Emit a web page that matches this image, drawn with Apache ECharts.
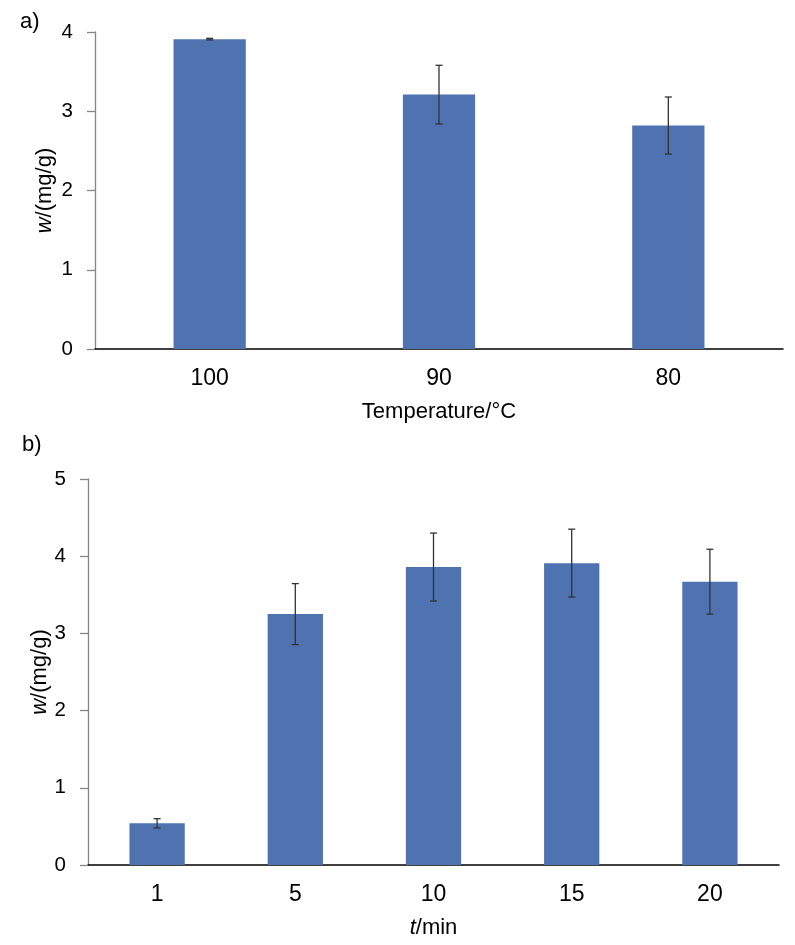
<!DOCTYPE html>
<html>
<head>
<meta charset="utf-8">
<script src="https://cdn.jsdelivr.net/npm/echarts@6/dist/echarts.min.js"></script>
<style>
html,body{margin:0;padding:0;background:#fff;}
#c{width:795px;height:945px;}
</style>
</head>
<body>
<div id="c"></div>
<script>
// Panel a) temperature
const tempCategories = ['100', '90', '80'];
const tempValues = [3.91, 3.21, 2.82];
const tempErrors = [0.01, 0.37, 0.36];
const tempTicks = [0, 1, 2, 3, 4];

// Panel b) time
const timeCategories = ['1', '5', '10', '15', '20'];
const timeValues = [0.54, 3.25, 3.86, 3.91, 3.67];
const timeErrors = [0.06, 0.395, 0.44, 0.44, 0.42];
const timeTicks = [0, 1, 2, 3, 4, 5];

const FONT = '"Liberation Sans", Arial, sans-serif';
const BAR = '#4e73b0';
const ERR = '#333333';

function errData(vals, errs) {
  return vals.map((v, i) => [i, v - errs[i], v + errs[i]]);
}
function errRender(params, api) {
  const x = api.value(0);
  const lo = api.coord([x, api.value(1)]);
  const hi = api.coord([x, api.value(2)]);
  const cap = 3.5;
  const style = { stroke: ERR, lineWidth: 1.3, fill: null };
  return {
    type: 'group',
    children: [
      { type: 'line', shape: { x1: hi[0], y1: hi[1], x2: lo[0], y2: lo[1] }, style },
      { type: 'line', shape: { x1: hi[0] - cap, y1: hi[1], x2: hi[0] + cap, y2: hi[1] }, style },
      { type: 'line', shape: { x1: lo[0] - cap, y1: lo[1], x2: lo[0] + cap, y2: lo[1] }, style }
    ]
  };
}

function yAxis(gridIndex, ticks, gap) {
  return {
    gridIndex, type: 'value',
    min: ticks[0], max: ticks[ticks.length - 1], interval: 1,
    name: '{i|w}/(mg/g)',
    nameLocation: 'middle', nameGap: gap, nameRotate: 90,
    nameMoveOverlap: false,
    nameTextStyle: {
      fontFamily: FONT, fontSize: 22, color: '#000',
      rich: { i: { fontFamily: FONT, fontSize: 22, fontStyle: 'italic', color: '#000' } }
    },
    axisLine: { show: true, lineStyle: { color: '#868686', width: 1.3 } },
    axisTick: { show: true, length: 8, inside: false, lineStyle: { color: '#868686', width: 1.3 } },
    axisLabel: { fontFamily: FONT, fontSize: 20.5, color: '#000', margin: 22 },
    splitLine: { show: false }
  };
}
function xAxis(gridIndex, cats, name) {
  return {
    gridIndex, type: 'category', data: cats,
    name, nameLocation: 'middle', nameGap: 52,
    nameTextStyle: {
      fontFamily: FONT, fontSize: 22, color: '#000',
      rich: { i: { fontFamily: FONT, fontSize: 22, fontStyle: 'italic', color: '#000' } }
    },
    axisLine: { show: true, lineStyle: { color: '#000', width: 1.5 } },
    axisTick: { show: false },
    axisLabel: { fontFamily: FONT, fontSize: 23, color: '#000', margin: 18 },
    splitLine: { show: false }
  };
}

const chart = echarts.init(document.getElementById('c'), null, { renderer: 'canvas' });
chart.setOption({
  backgroundColor: '#fff',
  animation: false,
  grid: [
    { left: 95, top: 32, width: 688, height: 317, outerBoundsMode: 'none', containLabel: false },
    { left: 88, top: 479, width: 691, height: 386, outerBoundsMode: 'none', containLabel: false }
  ],
  xAxis: [
    xAxis(0, tempCategories, 'Temperature/°C'),
    xAxis(1, timeCategories, '{i|t}/min')
  ],
  yAxis: [yAxis(0, tempTicks, 39), yAxis(1, timeTicks, 37)],
  graphic: [
    { type: 'text', left: 20, top: 11, style: { text: 'a)', font: '22px ' + FONT, fill: '#000' } },
    { type: 'text', left: 22, top: 434, style: { text: 'b)', font: '22px ' + FONT, fill: '#000' } }
  ],
  series: [
    { type: 'bar', xAxisIndex: 0, yAxisIndex: 0, data: tempValues, barWidth: '31.5%', itemStyle: { color: BAR } },
    { type: 'custom', xAxisIndex: 0, yAxisIndex: 0, data: errData(tempValues, tempErrors), renderItem: errRender, z: 5 },
    { type: 'bar', xAxisIndex: 1, yAxisIndex: 1, data: timeValues, barWidth: '40%', itemStyle: { color: BAR } },
    { type: 'custom', xAxisIndex: 1, yAxisIndex: 1, data: errData(timeValues, timeErrors), renderItem: errRender, z: 5 }
  ]
});
</script>
</body>
</html>
